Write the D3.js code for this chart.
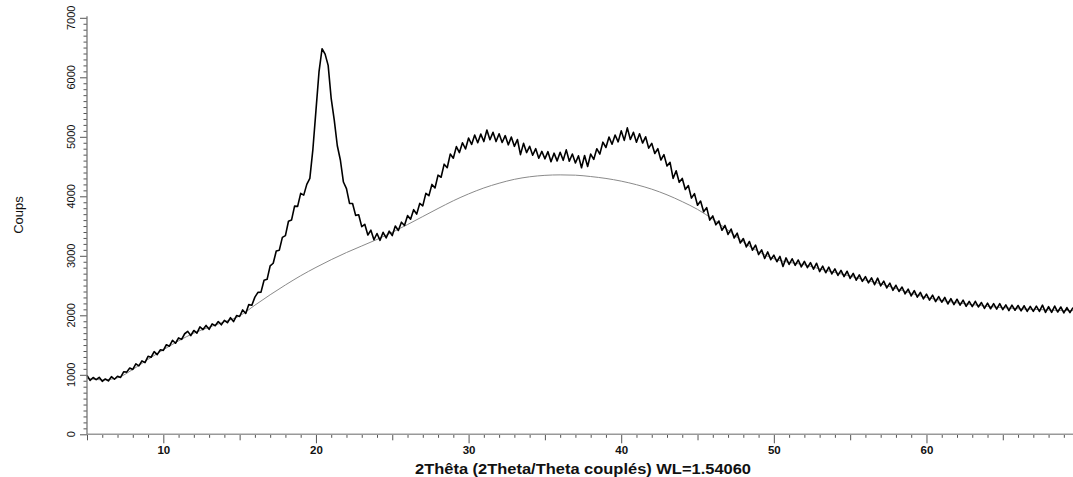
<!DOCTYPE html>
<html>
<head>
<meta charset="utf-8">
<script src="https://cdn.jsdelivr.net/npm/d3@7"></script>
<style>
  html, body { margin: 0; padding: 0; background: #ffffff; }
  svg { display: block; }
  text { font-family: "Liberation Sans", Arial, sans-serif; }
</style>
</head>
<body>
<svg id="chart" width="1073" height="477"></svg>
<script>
// ---- data ----
const scanStart = 5.0;   // 2theta of first measured point
const scanStep = 0.2;    // step between measured points (degrees)
const counts = [
  990, 905, 955, 918, 957, 890, 930, 897, 970, 925, 975, 955, 1050, 1045, 1115, 1090,
  1185, 1150, 1235, 1205, 1310, 1295, 1390, 1340, 1420, 1410,
  1505, 1480, 1580, 1530, 1620, 1595, 1690, 1730, 1660, 1745,
  1700, 1805, 1760, 1830, 1765, 1855, 1825, 1895, 1840, 1915,
  1875, 1960, 1895, 1995, 1980, 2090, 2030, 2180, 2170, 2305,
  2385, 2390, 2590, 2605, 2830, 2875, 3080, 3095, 3310, 3340,
  3580, 3600, 3835, 3830, 4050, 4020, 4200, 4300, 4790, 5440,
  6090, 6480, 6390, 6200, 5640, 5280, 4850, 4610, 4240, 4130,
  3880, 3880, 3680, 3690, 3490, 3530, 3350, 3430, 3270, 3375,
  3260, 3395, 3300, 3415, 3340, 3500, 3425, 3565, 3510, 3675,
  3615, 3775, 3700, 3880, 3840, 4050, 4010, 4200, 4140, 4355,
  4320, 4540, 4480, 4710, 4640, 4835, 4735, 4900, 4795, 4980,
  4870, 5030, 4900, 5045, 4920, 5115, 4950, 5075, 4920, 5050,
  4905, 5020, 4865, 4995, 4840, 4955, 4700, 4890, 4735, 4840,
  4690, 4800, 4640, 4755, 4630, 4750, 4580, 4725, 4595, 4740,
  4605, 4780, 4590, 4710, 4560, 4680, 4480, 4685, 4500, 4710,
  4620, 4800, 4710, 4910, 4820, 4995, 4875, 5030, 4915, 5100,
  4940, 5150, 4955, 5075, 4910, 5050, 4895, 5000, 4810, 4890,
  4720, 4800, 4610, 4700, 4510, 4570, 4300, 4430, 4235, 4300,
  4115, 4180, 3970, 4045, 3850, 3920, 3740, 3810, 3600, 3670,
  3520, 3585, 3430, 3510, 3360, 3450, 3300, 3380, 3215, 3290,
  3150, 3240, 3095, 3180, 3020, 3100, 2955, 3065, 2935, 3010,
  2900, 2990, 2820, 2965, 2855, 2950, 2840, 2930, 2815, 2905,
  2800, 2885, 2775, 2875, 2735, 2825, 2715, 2810, 2695, 2780,
  2670, 2755, 2650, 2740, 2620, 2705, 2590, 2680, 2570, 2650,
  2545, 2630, 2515, 2625, 2495, 2575, 2460, 2540, 2420, 2505,
  2400, 2475, 2360, 2440, 2325, 2415, 2305, 2385, 2275, 2355,
  2255, 2340, 2230, 2315, 2220, 2300, 2190, 2280, 2180, 2270,
  2170, 2255, 2150, 2235, 2145, 2235, 2140, 2215, 2115, 2205,
  2110, 2195, 2105, 2195, 2095, 2175, 2080, 2170, 2085, 2165,
  2075, 2160, 2065, 2150, 2065, 2155, 2065, 2170, 2050, 2145,
  2050, 2155, 2055, 2140, 2040, 2130, 2045, 2130
];
const baselineAngles = [5, 6, 7, 8, 9, 10, 11, 12, 13, 14, 15, 16, 17, 18, 19, 20, 21, 22, 23, 24, 25, 26, 27,
  28, 29, 30, 31, 32, 33, 34, 35, 36, 37, 38, 39, 40, 41, 42, 43, 44, 45, 46, 47, 48, 49, 50, 51, 52, 53, 54,
  55, 56, 57, 58, 59, 60, 61, 62, 63, 64, 65, 66, 67, 68, 69, 69.6];
const baselineCounts = [940, 915, 950, 1090, 1260, 1420, 1570, 1700, 1800, 1890, 1990, 2170, 2345, 2510, 2665,
  2805, 2935, 3055, 3165, 3275, 3395, 3525, 3660, 3795, 3925, 4040, 4140, 4220, 4285, 4328, 4352, 4360, 4355,
  4332, 4300, 4255, 4195, 4120, 4025, 3910, 3780, 3615, 3430, 3230, 3070, 2950, 2890, 2850, 2780, 2720, 2660,
  2590, 2530, 2450, 2370, 2300, 2250, 2210, 2180, 2150, 2130, 2110, 2100, 2090, 2080, 2080];
const xMajorTicks = [10, 20, 30, 40, 50, 60];
const yMajorTicks = [0, 1000, 2000, 3000, 4000, 5000, 6000, 7000];
const xLabel = "2Thêta (2Theta/Theta couplés) WL=1.54060";
const yLabel = "Coups";

// ---- layout ----
const svg = d3.select("#chart");
const mLeft = 87, mRight = 1073, mTop = 17.8, mBottom = 434.3;
const x = d3.scaleLinear().domain([5, 69.6]).range([mLeft, mRight]);
const y = d3.scaleLinear().domain([0, 7000]).range([mBottom, mTop]);

const pts = counts.map((c, i) => [scanStart + i * scanStep, c]);
const base = baselineAngles.map((a, i) => [a, baselineCounts[i]]);

// baseline (gray)
svg.append("path")
  .datum(base)
  .attr("fill", "none")
  .attr("stroke", "#8a8a8a")
  .attr("stroke-width", 1)
  .attr("d", d3.line().x(d => x(d[0])).y(d => y(d[1])).curve(d3.curveMonotoneX));

// measured pattern (black)
svg.append("path")
  .datum(pts)
  .attr("fill", "none")
  .attr("stroke", "#000")
  .attr("stroke-width", 1.6)
  .attr("stroke-linejoin", "round")
  .attr("d", d3.line().x(d => x(d[0])).y(d => y(d[1])));

// ---- x axis ----
const xMinor = d3.range(6, 70, 1).filter(v => v % 5 !== 0);
const xMid = d3.range(5, 70, 10);
const gx = svg.append("g").attr("transform", `translate(0,${mBottom})`);
gx.append("g").call(d3.axisBottom(x).tickValues(xMinor).tickSize(3.5).tickFormat(""))
  .call(g => g.select(".domain").remove());
gx.append("g").call(d3.axisBottom(x).tickValues(xMid).tickSize(6).tickFormat(""))
  .call(g => g.select(".domain").remove());
gx.append("g").call(d3.axisBottom(x).tickValues(xMajorTicks).tickSize(9).tickPadding(3).tickFormat(d3.format("d")))
  .call(g => g.select(".domain").remove())
  .call(g => g.selectAll("text").attr("font-size", 11.5).attr("font-weight", "bold").attr("fill", "#111"));
gx.selectAll(".tick line").attr("stroke", "#555");
svg.append("line").attr("x1", mLeft).attr("x2", mRight).attr("y1", mBottom).attr("y2", mBottom)
  .attr("stroke", "#999").attr("stroke-width", 1.5);

// ---- y axis ----
const yMinor = d3.range(100, 7000, 100).filter(v => v % 1000 !== 0);
const gy = svg.append("g").attr("transform", `translate(${mLeft},0)`);
gy.append("g").call(d3.axisLeft(y).tickValues(yMinor).tickSize(3.5).tickFormat(""))
  .call(g => g.select(".domain").remove());
gy.append("g").call(d3.axisLeft(y).tickValues(yMajorTicks).tickSize(7).tickFormat(""))
  .call(g => g.select(".domain").remove());
gy.selectAll(".tick line").attr("stroke", "#555");
svg.append("line").attr("x1", mLeft).attr("x2", mLeft).attr("y1", mBottom).attr("y2", mTop - 1.5)
  .attr("stroke", "#777").attr("stroke-width", 1.3);
// rotated y tick labels
svg.append("g").selectAll("text")
  .data(yMajorTicks)
  .join("text")
  .attr("transform", d => `translate(75,${y(d)}) rotate(-90)`)
  .attr("text-anchor", "middle")
  .attr("font-size", 11)
  .attr("fill", "#111")
  .text(d => d);

// ---- axis titles ----
svg.append("text")
  .attr("x", 583)
  .attr("y", 474)
  .attr("text-anchor", "middle")
  .attr("font-size", 14)
  .attr("font-weight", "bold")
  .attr("fill", "#111")
  .attr("textLength", 336)
  .attr("lengthAdjust", "spacingAndGlyphs")
  .text(xLabel);
svg.append("text")
  .attr("transform", "translate(23,215) rotate(-90)")
  .attr("text-anchor", "middle")
  .attr("font-size", 13)
  .attr("fill", "#111")
  .text(yLabel);
</script>
</body>
</html>
